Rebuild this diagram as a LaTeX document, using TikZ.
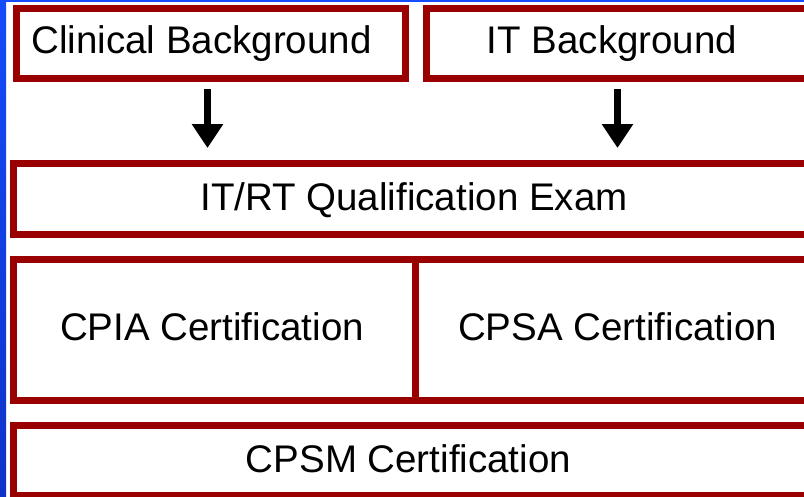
\documentclass[tikz,border=0pt]{standalone}
\usepackage{fontspec}
\setmainfont{Liberation Sans}
\usetikzlibrary{arrows.meta}
\definecolor{boxred}{RGB}{153,0,0}
\definecolor{edgeblueA}{RGB}{20,75,250}
\definecolor{edgeblueB}{RGB}{16,50,200}
\tikzset{
  box/.style={draw=boxred, line width=7pt, fill=white, rectangle, inner sep=0pt, outer sep=0pt},
  lbl/.style={anchor=base, inner sep=0pt, font=\fontsize{38.5}{46}\selectfont, text=black},
  arr/.style={line width=7pt, -{Triangle[width=30pt,length=24pt]}, draw=black}
}
\begin{document}
\begin{tikzpicture}[x=1pt,y=-1pt]
\useasboundingbox (0,0) rectangle (804,496);
\clip (0,0) rectangle (804,496);
\fill[white] (0,0) rectangle (804,496);
% blue frame
\shade[top color=edgeblueA, bottom color=edgeblueB] (0,0) rectangle (6,496);
\fill[edgeblueA] (0,0) rectangle (804,1.5);
% boxes
\node[box, minimum width=389pt, minimum height=70pt] (clin) at (211,43.5) {};
\node[box, minimum width=400pt, minimum height=70pt] (itb) at (626.5,43.5) {};
\node[box, minimum width=810pt, minimum height=71pt] (qual) at (418.5,199) {};
\node[box, minimum width=402pt, minimum height=141pt] (cpia) at (214.5,330) {};
\node[box, minimum width=402pt, minimum height=141pt] (cpsa) at (616.5,330) {};
\node[box, minimum width=810pt, minimum height=70pt] (cpsm) at (418.5,460.5) {};
% labels
\node[lbl] (tclin) at (201.5,53) {Clinical Background};
\node[lbl] (titb) at (612,53) {IT Background};
\node[lbl] (tqual) at (414,210) {IT/RT Qualification Exam};
\node[lbl] (tcpia) at (212,340) {CPIA Certification};
\node[lbl] (tcpsa) at (617.5,340) {CPSA Certification};
\node[lbl] (tcpsm) at (408.5,472) {CPSM Certification};
% arrows
\coordinate (a1s) at (207.5,89);
\coordinate (a1e) at (207.5,148);
\coordinate (a2s) at (617.5,89);
\coordinate (a2e) at (617.5,148);
\draw[arr] (a1s) -- (a1e);
\draw[arr] (a2s) -- (a2e);
\end{tikzpicture}
\end{document}
